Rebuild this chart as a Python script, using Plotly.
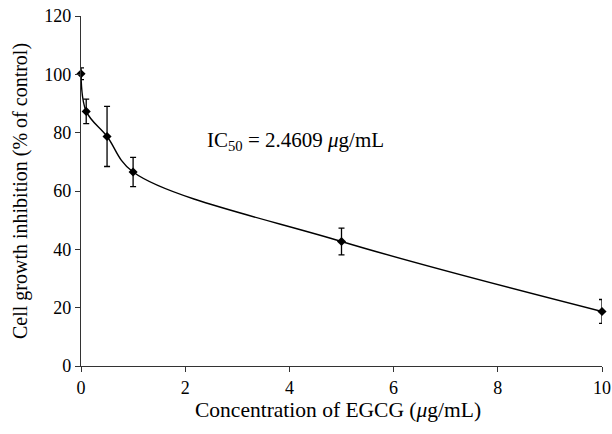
import plotly.graph_objects as go

conc = [0, 0.1, 0.5, 1, 5, 10]
inhibition = [100.2, 87.3, 78.7, 66.5, 42.7, 18.7]
err = [2.0, 4.2, 10.3, 5.0, 4.6, 4.1]
x_ticks = [0, 2, 4, 6, 8, 10]
y_ticks = [0, 20, 40, 60, 80, 100, 120]

FONT = "Liberation Serif"

fig = go.Figure()
fig.add_trace(go.Scatter(
    x=conc, y=inhibition,
    mode="lines+markers",
    line=dict(color="black", width=1.4, shape="spline", smoothing=1.0),
    marker=dict(symbol="diamond", size=7, color="black"),
    error_y=dict(type="data", array=err, visible=True, color="black", thickness=1.3, width=3),
    showlegend=False,
    cliponaxis=False,
))

fig.add_annotation(
    x=2.38, y=77.3, xref="x", yref="y", xanchor="left", yanchor="middle",
    text="IC<sub>50</sub> = 2.4609 <i>μ</i>g/mL", showarrow=False,
    font=dict(family=FONT, size=21, color="black"),
)
# axis titles
fig.add_annotation(
    x=0.493, y=0, xref="paper", yref="paper", xanchor="center", yanchor="middle",
    yshift=-44, text="Concentration of EGCG (<i>μ</i>g/mL)", showarrow=False,
    font=dict(family=FONT, size=21.5, color="black"),
)
fig.add_annotation(
    x=0, y=0.5, xref="paper", yref="paper", xanchor="center", yanchor="middle",
    xshift=-61, textangle=-90, text="Cell growth inhibition (% of control)", showarrow=False,
    font=dict(family=FONT, size=20, color="black"),
)

fig.update_layout(
    width=612, height=434,
    margin=dict(l=81, r=10, t=16, b=68),
    plot_bgcolor="white", paper_bgcolor="white",
    font=dict(family=FONT, size=18, color="black"),
)
fig.update_xaxes(
    range=[0, 10], tickvals=x_ticks, ticks="outside", ticklen=5, tickcolor="#333",
    showline=True, linecolor="#333", linewidth=1.2, showgrid=False, zeroline=False,
    automargin=False,
    tickfont=dict(family=FONT, size=18, color="black"),
)
fig.update_yaxes(
    range=[0, 120], tickvals=y_ticks, ticks="outside", ticklen=5, tickcolor="#333",
    showline=True, linecolor="#333", linewidth=1.2, showgrid=False, zeroline=False,
    automargin=False,
    tickfont=dict(family=FONT, size=18, color="black"),
)

fig.write_html("out.html", config={"displayModeBar": False},
               post_script="document.body.style.margin='0';")
